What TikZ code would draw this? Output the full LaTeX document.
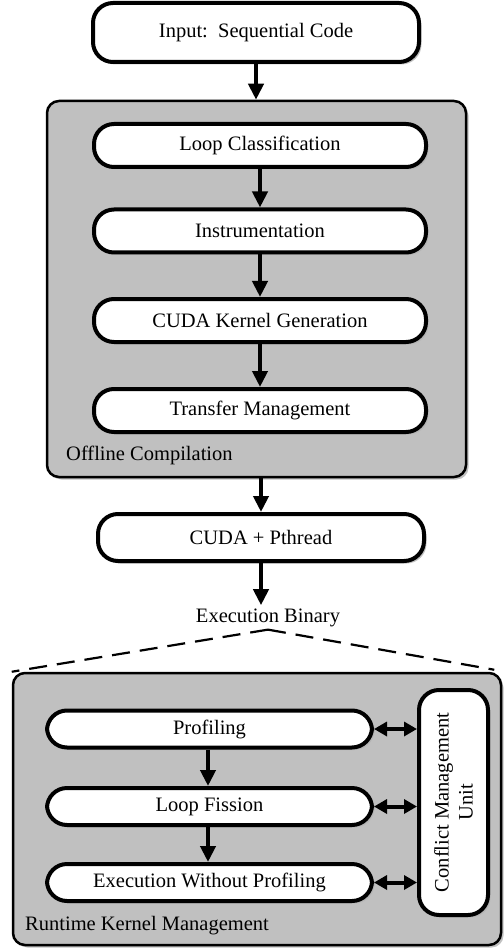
\documentclass[tikz,border=0pt]{standalone}
\usepackage{fontspec}
\setmainfont{Liberation Serif}
\usepackage{xcolor}
\usetikzlibrary{shadows}
\usetikzlibrary{positioning}
\usetikzlibrary{arrows.meta,calc}
\definecolor{boxgray}{RGB}{192,192,192}
\tikzset{
  stage/.style={draw, line width=4pt, fill=white, rounded corners=20pt, minimum height=40pt, inner sep=0pt,
    drop shadow={shadow xshift=2.5pt, shadow yshift=-2.5pt, fill=black!30, opacity=0.8}},
  group/.style={draw, line width=2.5pt, fill=boxgray, rounded corners=12pt, inner sep=0pt,
    drop shadow={shadow xshift=2.5pt, shadow yshift=-2.5pt, fill=black!30, opacity=0.8}},
  arr/.style={line width=4pt, -{Triangle[length=16pt,width=15pt]}},
  dblarr/.style={line width=4pt, {Triangle[length=13pt,width=14pt]}-{Triangle[length=13pt,width=14pt]}},
  lbl/.style={inner sep=0pt, anchor=base west},
}
\begin{document}
\begin{tikzpicture}[x=1pt, y=-1pt, font=\fontsize{20.5}{24}\selectfont]
 \useasboundingbox (0,0) rectangle (503,949);

 \node[stage, minimum width=326pt, minimum height=59pt] (inp) at (256,32.5) {Input:\ \ Sequential Code};

 %offline part
 \node[group, minimum width=419pt, minimum height=376pt] (off) at (256.5,289) {};
 \foreach \name/\y/\txt in {lc/145.5/Loop Classification, ins/231/Instrumentation, ckg/320.5/CUDA Kernel Generation, tm/410.5/Transfer Management} {
   \node[stage, minimum width=332pt, minimum height=43pt] (\name) at (260,\y) {\txt};
 }
 \node[lbl] (offl) at (66,460) {Offline Compilation};

 \node[stage, minimum width=326pt, minimum height=47pt] (cp) at (261,537.5) {CUDA + Pthread};
 \node[inner sep=3pt, anchor=base] (eb) at (268,622) {Execution Binary};

 %runtime part
 \node[group, minimum width=488pt, minimum height=272pt] (rt) at (257,809) {};
 \foreach \name/\y/\txt in {prof/729/Profiling, lf/806.5/Loop Fission, ewp/882.5/Execution Without Profiling} {
   \node[stage, minimum width=325pt, minimum height=37pt] (\name) at (209.5,\y) {\txt};
 }
 \node[stage, rotate=90, minimum width=225pt, minimum height=69pt, align=center] (cmu) at (453.5,802.5) {Conflict Management\\Unit};
 \node[lbl] (rtl) at (25,930) {Runtime Kernel Management};

 % lines
 \draw[arr] (inp.south) -- (inp.south |- off.north);
 \foreach \a/\b in {lc/ins, ins/ckg, ckg/tm}
   \draw[arr] (\a.south) -- (\b.north);
 \draw[arr] (off.south -| cp.north) -- (cp.north);
 \draw[arr] (cp.south) -- (cp.south |- eb.north);
 \draw[line width=2.2pt, dash pattern=on 18pt off 10pt] (eb.south) -- (rt.north west);
 \draw[line width=2.2pt, dash pattern=on 18pt off 10pt] (eb.south) -- ($(rt.north east)+(-8,-2)$);
 \foreach \a/\b in {prof/lf, lf/ewp}
   \draw[arr] (\a.south -| 208,0) -- (\b.north -| 208,0);
 \foreach \name in {prof, lf, ewp}
   \draw[dblarr] (\name.east) -- (\name.east -| cmu.north);

\end{tikzpicture}
\end{document}
